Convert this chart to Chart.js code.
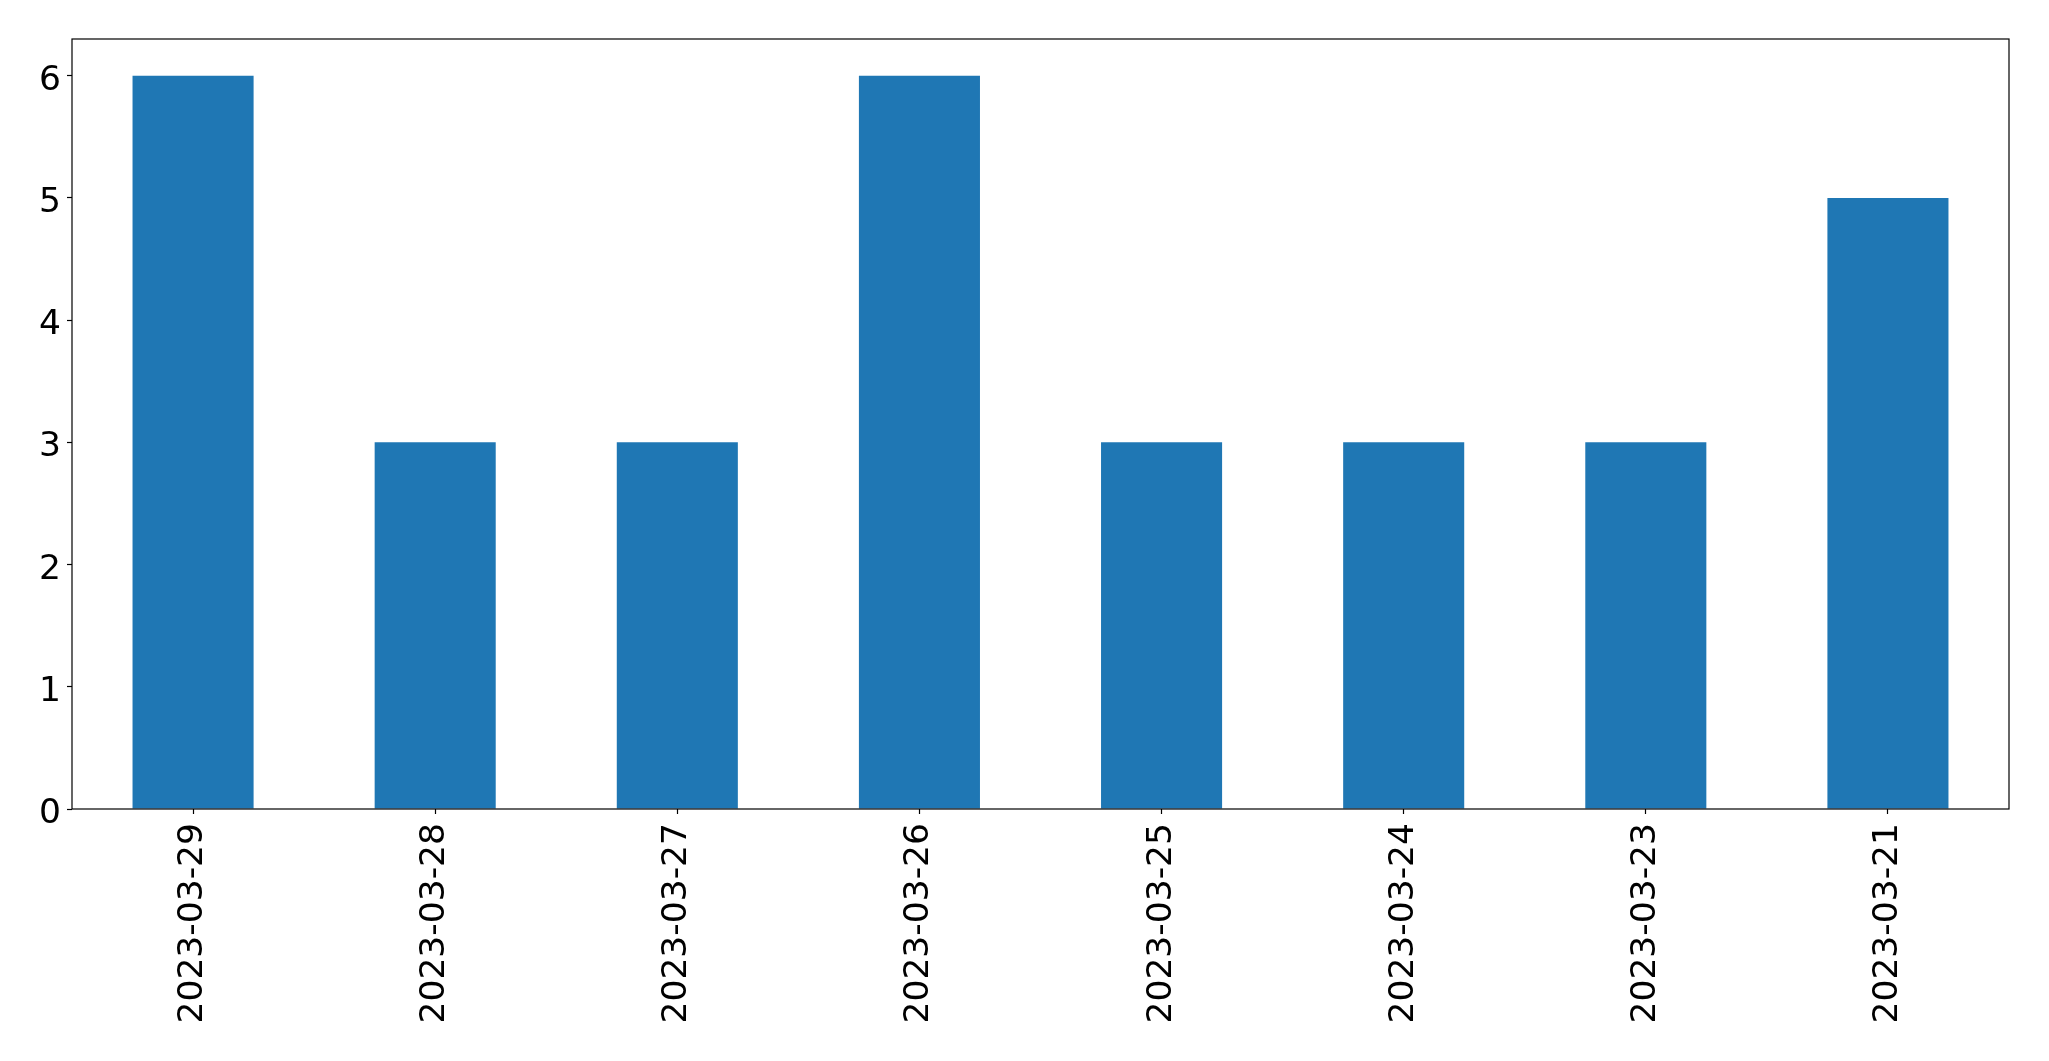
<!DOCTYPE html>
<html>
<head>
<meta charset="utf-8">
<script src="https://cdn.jsdelivr.net/npm/chart.js@4/dist/chart.umd.min.js"></script>
<style>
  html, body { margin: 0; padding: 0; background: #fff; }
  #wrap { width: 2049px; height: 1061px; }
</style>
</head>
<body>
<div id="wrap"><canvas id="chart" width="2049" height="1061"></canvas></div>
<script>
// data
const dates = ['2023-03-29', '2023-03-28', '2023-03-27', '2023-03-26', '2023-03-25', '2023-03-24', '2023-03-23', '2023-03-21'];
const counts = [6, 3, 3, 6, 3, 3, 3, 5];
const yTicks = [0, 1, 2, 3, 4, 5, 6];

const FONT = { family: "'DejaVu Sans', sans-serif", size: 34.5 };

// box round the plot area, like matplotlib spines
const frame = {
  id: 'frame',
  afterDraw(chart) {
    const { ctx, chartArea: a } = chart;
    ctx.save();
    ctx.strokeStyle = '#000';
    ctx.lineWidth = 1.2;
    ctx.strokeRect(a.left, a.top, a.right - a.left, a.bottom - a.top);
    ctx.restore();
  },
};

new Chart(document.getElementById('chart'), {
  type: 'bar',
  data: {
    labels: dates,
    datasets: [{ data: counts, backgroundColor: '#1f77b4', categoryPercentage: 1, barPercentage: 0.5 }],
  },
  plugins: [frame],
  options: {
    responsive: false,
    animation: false,
    layout: { padding: { top: 39, right: 40, left: 0, bottom: 0 } },
    plugins: { legend: { display: false }, tooltip: { enabled: false } },
    scales: {
      x: {
        offset: true,
        grid: { display: true, drawOnChartArea: false, offset: false, tickLength: 5, color: '#000', tickWidth: 1.2 },
        border: { display: false },
        ticks: { color: '#000', font: FONT, minRotation: 90, maxRotation: 90, padding: 9, autoSkip: false },
        afterFit(s) { s.height = 1061 - 809; },
      },
      y: {
        min: 0,
        max: 6.3,
        grid: { display: true, drawOnChartArea: false, tickLength: 5, color: '#000', tickWidth: 1.2 },
        border: { display: false },
        ticks: { color: '#000', font: FONT, stepSize: 1, padding: 6, labelOffset: 5 },
        afterBuildTicks(s) { s.ticks = yTicks.map((v) => ({ value: v })); },
        afterFit(s) { s.width = 72; },
      },
    },
  },
});
</script>
</body>
</html>
